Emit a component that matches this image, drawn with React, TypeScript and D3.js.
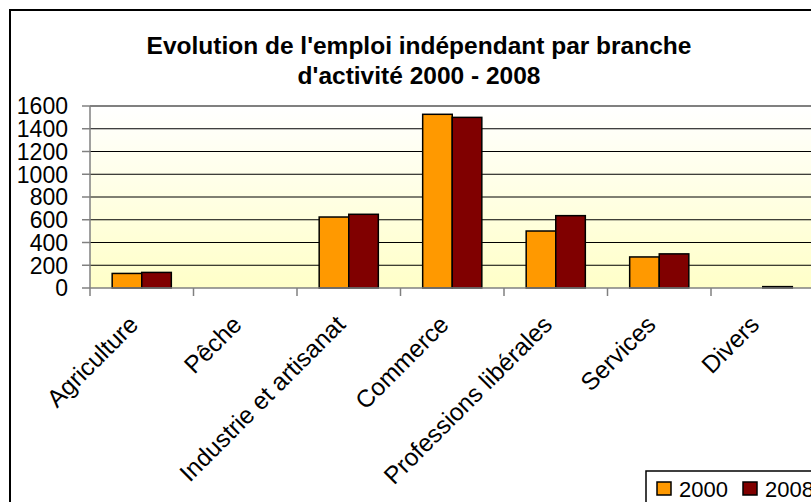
import { useMemo } from "react";
import * as d3 from "d3";

const WIDTH = 811;
const HEIGHT = 502;

const categories = [
  "Agriculture",
  "Pêche",
  "Industrie et artisanat",
  "Commerce",
  "Professions libérales",
  "Services",
  "Divers",
];
const seriesNames = ["2000", "2008"];
const values2000 = [128, 0, 624, 1527, 501, 273, 0];
const values2008 = [137, 0, 648, 1500, 636, 300, 12];
const yTicks = [0, 200, 400, 600, 800, 1000, 1200, 1400, 1600];
const colors = ["#FF9900", "#800000"];

// plot area (Excel puts it slightly past the right edge)
const PLOT = { left: 90, top: 106, right: 814.5, bottom: 288 };

const App = () => {
  const x0 = useMemo(
    () => d3.scaleBand().domain(categories).range([PLOT.left, PLOT.right]).padding(0),
    []
  );
  // gap width 150% -> outer padding 0.75 of a bar
  const x1 = useMemo(
    () =>
      d3
        .scaleBand()
        .domain(seriesNames)
        .range([0, x0.bandwidth()])
        .paddingInner(0)
        .paddingOuter(0.75),
    [x0]
  );
  const y = useMemo(
    () => d3.scaleLinear().domain([0, 1600]).range([PLOT.bottom, PLOT.top]),
    []
  );

  const series = [values2000, values2008];

  const bars = categories.map((c, i) => (
    <g key={c} transform={`translate(${x0(c)},0)`}>
      {seriesNames.map((s, j) => {
        const v = series[j][i];
        if (!v) return null;
        return (
          <rect
            key={s}
            x={x1(s)}
            y={y(v)}
            width={x1.bandwidth()}
            height={y(0) - y(v)}
            fill={colors[j]}
            stroke="#000"
            strokeWidth={1.5}
          />
        );
      })}
    </g>
  ));

  const xTickPos = categories.map((c) => x0(c) as number).concat([PLOT.right]);

  return (
    <div style={{ position: "fixed", left: 0, top: 0 }}>
      <svg width={WIDTH} height={HEIGHT} style={{ display: "block", fontFamily: "Arial, 'Liberation Sans', sans-serif" }}>
        <defs>
          <linearGradient id="bg" x1="0" y1="0" x2="0" y2="1">
            <stop offset="0%" stopColor="#FFFFFF" />
            <stop offset="100%" stopColor="#FFFFC8" />
          </linearGradient>
        </defs>
        <rect x={0} y={0} width={WIDTH} height={HEIGHT} fill="#fff" />
        {/* chart frame */}
        <rect x={10} y={10} width={WIDTH + 20} height={HEIGHT + 20} fill="none" stroke="#000" strokeWidth={2} />

        {/* title */}
        <text x={419} y={54} textAnchor="middle" fontSize={24.5} fontWeight="bold">
          Evolution de l'emploi indépendant par branche
        </text>
        <text x={419} y={84} textAnchor="middle" fontSize={24.5} fontWeight="bold">
          d'activité 2000 - 2008
        </text>

        {/* plot area */}
        <rect
          x={PLOT.left}
          y={PLOT.top}
          width={PLOT.right - PLOT.left}
          height={PLOT.bottom - PLOT.top}
          fill="url(#bg)"
        />
        {yTicks.slice(1).map((t) => (
          <line key={t} x1={PLOT.left} x2={PLOT.right} y1={y(t)} y2={y(t)} stroke="#000" strokeWidth={1} />
        ))}
        <line x1={PLOT.left} x2={PLOT.right} y1={PLOT.top} y2={PLOT.top} stroke="#808080" strokeWidth={1.5} />

        {/* y axis */}
        <line x1={PLOT.left} x2={PLOT.left} y1={PLOT.top} y2={PLOT.bottom} stroke="#808080" strokeWidth={1.5} />
        {yTicks.map((t) => (
          <g key={t}>
            <line x1={PLOT.left - 8} x2={PLOT.left} y1={y(t)} y2={y(t)} stroke="#808080" strokeWidth={1.5} />
            <text x={68} y={y(t)} dy="0.36em" textAnchor="end" fontSize={23}>
              {t}
            </text>
          </g>
        ))}

        {bars}

        {/* x axis */}
        <line x1={PLOT.left} x2={PLOT.right} y1={PLOT.bottom} y2={PLOT.bottom} stroke="#808080" strokeWidth={1.5} />
        {xTickPos.map((p, i) => (
          <line key={i} x1={p} x2={p} y1={PLOT.bottom} y2={PLOT.bottom + 8} stroke="#808080" strokeWidth={1.5} />
        ))}
        {categories.map((c) => {
          const cx = (x0(c) as number) + x0.bandwidth() / 2;
          return (
            <text
              key={c}
              transform={`translate(${cx - 2},326) rotate(-45)`}
              textAnchor="end"
              fontSize={24.5}
            >
              {c}
            </text>
          );
        })}

        {/* legend */}
        <rect x={646} y={471} width={200} height={60} fill="#fff" stroke="#000" strokeWidth={1.5} />
        {seriesNames.map((s, j) => (
          <g key={s} transform={`translate(${657 + j * 86},482)`}>
            <rect x={0} y={0} width={14} height={13} fill={colors[j]} stroke="#000" strokeWidth={1.5} />
            <text x={22} y={15} fontSize={22}>
              {s}
            </text>
          </g>
        ))}
      </svg>
    </div>
  );
};

export default App;
